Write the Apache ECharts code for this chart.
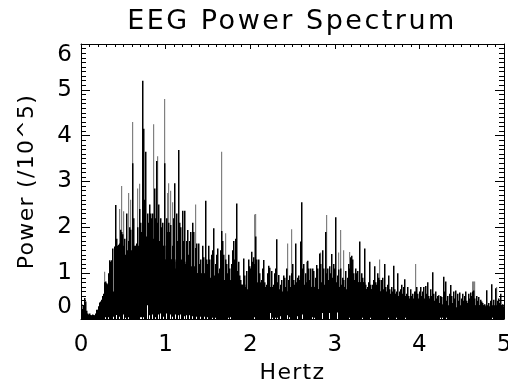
<!DOCTYPE html>
<html><head><meta charset="utf-8">
<style>html,body{margin:0;padding:0;background:#fff}#c{width:508px;height:383px}</style>
<script src="https://cdn.jsdelivr.net/npm/echarts@6/dist/echarts.min.js"></script>
</head><body><div id="c"></div>
<script>
var titleText = 'EEG Power Spectrum';
var xName = 'Hertz';
var yName = 'Power (/10^5)';
var binCount = 423;
var maxHz = 5;
var maxPower = 6;
// Power (/10^5) read per bin of the spectrum
var blackPower = [
.32,.22,.3,.46,.38,.18,.12,.1,.12,.09,.08,.1,.09,.08,.12,.2,.2,.28,.36,.38,
.42,.5,.55,.8,.82,.78,.76,1.0,1.28,1.25,1.28,1.54,.6,1.58,2.49,1.75,1.6,1.62,1.65,1.95,
1.9,1.85,1.6,1.75,1.4,2.3,1.5,1.7,2.0,1.95,1.5,3.4,2.2,1.6,1.6,1.65,2.0,1.6,2.4,2.1,
1.9,5.2,4.15,2.6,3.65,1.8,2.3,2.1,2.5,2.3,2.2,2.3,1.75,2.85,2.2,3.45,2.1,2.5,1.7,2.2,
2.0,2.1,1.5,3.4,1.3,2.2,1.9,2.1,1.9,2.05,1.3,1.6,2.2,2.96,1.1,2.3,1.7,3.69,2.1,2.0,
1.3,2.36,1.7,2.36,1.2,1.7,1.94,1.4,1.7,1.9,.9,2.1,1.9,1.0,1.55,1.65,1.0,1.65,1.2,1.3,
.85,1.6,1.35,.9,2.58,1.3,1.2,1.6,1.3,.9,1.4,1.5,1.98,.95,1.2,1.4,1.54,1.0,1.1,1.5,
1.92,1.7,1.4,.85,1.3,1.2,1.0,1.4,1.1,.65,1.2,1.5,1.7,1.3,1.75,2.52,1.05,1.25,.95,.85,
.75,.7,1.32,.95,.7,1.05,.65,1.3,1.15,1.1,1.47,1.25,1.35,1.2,1.8,1.3,.75,1.3,1.0,.7,
.85,1.1,1.29,.65,.7,.75,1.0,1.16,1.12,.7,1.05,.7,.75,1.0,1.1,1.74,.8,.96,.65,.75,
.85,.55,.95,.9,.7,1.1,.6,.85,.95,.7,1.0,1.2,.85,.75,1.65,.8,.9,.95,.85,1.69,
2.55,1.1,1.2,.75,1.0,.8,1.27,1.1,.85,1.1,.7,1.1,1.05,.6,.9,1.18,1.1,.65,1.43,1.2,
.8,1.5,1.1,.75,1.9,1.0,1.1,.85,1.15,1.0,1.42,.9,1.2,1.1,2.22,.8,.95,1.08,.6,1.1,
.75,.9,.85,.7,1.05,.65,.9,1.2,1.1,1.35,1.38,1.3,1.0,.85,1.1,1.0,1.05,.8,1.69,.8,
1.0,.9,.8,1.54,.75,.65,.7,.8,1.25,.75,.65,.75,.85,1.15,.8,.75,1.0,.9,.85,.6,
.85,.9,.65,1.2,.7,.6,.75,.95,.65,.5,.7,.6,1.16,.65,.55,.6,1.0,.5,.6,.65,
.75,.55,.7,.87,.5,.55,.7,.5,.45,.65,.5,.55,.45,.6,.6,.7,.55,.45,.6,.7,
.5,.6,.7,.45,.72,.55,.8,.5,.45,.65,.5,1.02,.55,.4,.6,.45,.5,.52,.35,.5,
.48,.3,.92,.6,.82,.4,.5,.3,.55,.74,.5,.35,.6,.45,.62,.25,.55,.4,.58,.3,
.45,.55,.4,.5,.6,.4,.35,.55,.45,.58,.5,.6,.62,.45,.3,.5,.4,.48,.3,.42,
.38,.35,.3,.32,.28,.63,.3,.35,.28,.4,.76,.3,.42,.3,.67,.3,.4,.45,.35,.55,
.3,.32,.28
];
// Solid mass of the spectrum, read once per 10 bins
var massPower = [.05,.05,.35,.95,1.3,1.3,1.6,1.6,1.3,1.25,1.15,1.0,.85,.8,.85,.75,.6,.8,.6,.6,.6,.65,.7,.65,.7,.7,.6,.8,.65,.6,.55,.45,.42,.35,.38,.32,.25,.25,.28,.3,.22,.22];
// Fainter spectrum spikes: bin number and power
var greyBins = [23,38,40,42,47,49,51,56,58,72,76,83,86,87,89,91,114,140,144,173,174,206,210,225,239,245,257,259,262,268,298,334,391,392,393,415];
var greyPower = [1.03,2.4,2.9,2.35,2.75,2.6,4.3,2.85,2.95,4.25,3.55,4.8,2.75,2.96,2.8,2.55,2.5,3.65,1.87,2.28,2.29,1.65,1.96,1.25,1.45,2.27,1.45,1.94,1.5,1.46,1.3,1.2,.82,.82,.82,.7];
// Narrow gaps at the foot of the spectrum: bin number and height
var gapBins = [24,27,32,35,38,42,44,47,59,60,62,66,68,71,74,77,79,82,85,89,91,94,97,99,103,105,108,111,115,119,123,126,131,134,147,149,173,189,191,194,196,199,206,208,216,221,231,233,241,248,256,268,281,289,307,315,324,359,361,365,411];
var gapPower = [.04,.04,.05,.09,.05,.1,.03,.04,.04,.04,.04,.3,.08,.1,.04,.1,.12,.05,.12,.1,.05,.1,.08,.1,.06,.08,.08,.06,.05,.05,.05,.04,.03,.03,.03,.04,.04,.13,.03,.03,.03,.06,.08,.04,.06,.1,.04,.03,.13,.13,.14,.03,.03,.03,.03,.03,.03,.03,.03,.03,.03];

function hz(bin){ return (bin + 0.5) * maxHz / binCount; }
var font = '"DejaVu Sans"';
var black = blackPower.map(function(v,i){ return [hz(i), v]; });
var mass = massPower.map(function(v,i){ return [hz(i*10+4.5), v]; });
var grey = greyBins.map(function(b,i){ return [hz(b), greyPower[i]]; });
var gaps = gapBins.map(function(b,i){ return [hz(b), gapPower[i]]; });
var line = {onZero:false,lineStyle:{color:'#000',width:1}};
function bars(d,color,z,w){ return {type:'bar',data:d,barWidth:w,barGap:'-100%',itemStyle:{color:color},z:z,silent:true,animation:false}; }
// wide stroke-font spacing of the reference labels
var baseFill = CanvasRenderingContext2D.prototype.fillText;
CanvasRenderingContext2D.prototype.fillText = function(t,x,y,m){
  this.letterSpacing = t === titleText ? '2.5px' : (t.length > 1 ? '1.3px' : '0px');
  return baseFill.call(this,t,x,y,m);
};
var chart = echarts.init(document.getElementById('c'),null,{renderer:'canvas'});
chart.setOption({
  animation:false,
  backgroundColor:'#fff',
  title:{text:titleText,left:287,textAlign:'center',top:3,textStyle:{fontFamily:font,fontWeight:'normal',fontSize:27,color:'#000'}},
  grid:{left:81,top:44,width:423,height:275,containLabel:false,outerBoundsMode:'none'},
  xAxis:[
    {type:'value',min:0,max:maxHz,interval:1,name:xName,nameLocation:'middle',nameGap:41,
     nameTextStyle:{fontFamily:font,fontSize:22,color:'#000'},
     axisLine:line,splitLine:{show:false},
     axisTick:{inside:true,length:5,lineStyle:{color:'#000'}},
     minorTick:{show:true,splitNumber:10,length:3,lineStyle:{color:'#000'}},
     axisLabel:{margin:15,fontFamily:font,fontSize:23,color:'#000'}},
    {type:'value',min:0,max:maxHz,interval:1,position:'top',
     axisLine:line,splitLine:{show:false},axisLabel:{show:false},
     axisTick:{inside:true,length:5,lineStyle:{color:'#000'}},
     minorTick:{show:true,splitNumber:10,length:3,lineStyle:{color:'#000'}}}
  ],
  yAxis:[
    {type:'value',min:0,max:maxPower,interval:1,name:yName,nameLocation:'middle',nameGap:43,nameRotate:90,
     nameTextStyle:{fontFamily:font,fontSize:22,color:'#000'},
     axisLine:line,splitLine:{show:false},
     axisTick:{inside:true,length:9,lineStyle:{color:'#000'}},
     minorTick:{show:true,splitNumber:10,length:5,lineStyle:{color:'#000'}},
     axisLabel:{margin:9,fontFamily:font,fontSize:23,color:'#000',verticalAlignMinLabel:'bottom',verticalAlignMaxLabel:'top'}},
    {type:'value',min:0,max:maxPower,interval:1,position:'right',
     axisLine:line,splitLine:{show:false},axisLabel:{show:false},
     axisTick:{inside:true,length:9,lineStyle:{color:'#000'}},
     minorTick:{show:true,splitNumber:10,length:5,lineStyle:{color:'#000'}}}
  ],
  series:[bars(grey,'#808080',3,1.2),bars(black,'#000',4,1.5),bars(mass,'#000',4,10),bars(gaps,'#fff',5,1)]
});
</script></body></html>
